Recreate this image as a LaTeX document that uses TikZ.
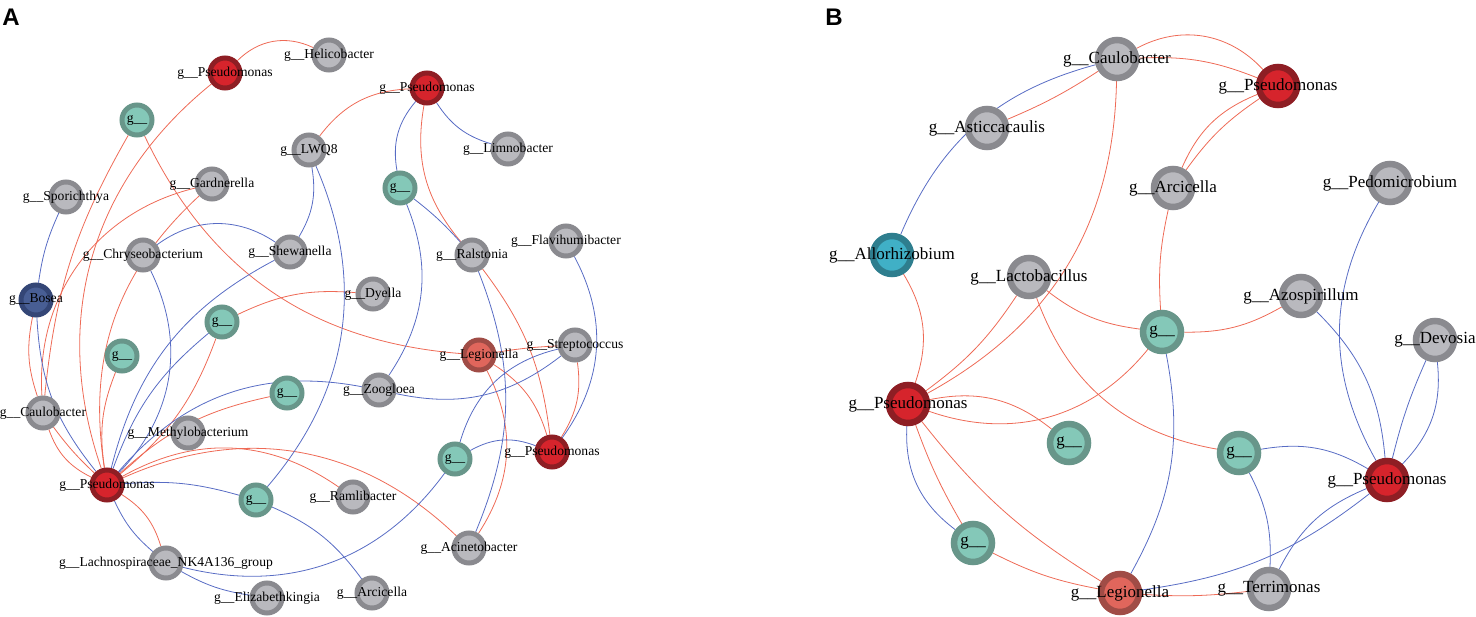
\documentclass[tikz,border=0pt]{standalone}
\usepackage{fontspec}
\setmainfont{Liberation Serif}
\newfontfamily\panelfont{Liberation Sans}
\usetikzlibrary{backgrounds}

\definecolor{grayfill}{RGB}{185,185,190}
\definecolor{grayedge}{RGB}{138,138,143}
\definecolor{tealfill}{RGB}{132,200,184}
\definecolor{tealedge}{RGB}{104,150,138}
\definecolor{redfill}{RGB}{214,36,44}
\definecolor{rededge}{RGB}{142,30,36}
\definecolor{legfill}{RGB}{224,102,92}
\definecolor{legedge}{RGB}{160,76,70}
\definecolor{navyfill}{RGB}{72,94,148}
\definecolor{navyedge}{RGB}{52,70,118}
\definecolor{cyanfill}{RGB}{64,176,198}
\definecolor{cyanedge}{RGB}{46,126,142}
\definecolor{posred}{RGB}{238,106,86}
\definecolor{negblue}{RGB}{88,108,196}

\begin{document}
\begin{tikzpicture}[
                x=1pt, y=1pt,
                nodeA/.style={circle, line width=5pt, minimum size=30pt, inner sep=0pt},
                nodeB/.style={circle, line width=6.5pt, minimum size=38pt, inner sep=0pt},
                gry/.style={fill=grayfill, draw=grayedge},
                tl/.style={fill=tealfill, draw=tealedge},
                rd/.style={fill=redfill, draw=rededge},
                lg/.style={fill=legfill, draw=legedge},
                nv/.style={fill=navyfill, draw=navyedge},
                cy/.style={fill=cyanfill, draw=cyanedge},
                lblA/.style={font=\fontsize{13.6}{15}\selectfont, inner sep=0pt},
                lblB/.style={font=\fontsize{17}{19}\selectfont, inner sep=0pt},
                panel/.style={font=\panelfont\bfseries\fontsize{24}{24}\selectfont, inner sep=0pt},
                poslink/.style={draw=posred, line width=0.8pt},
                neglink/.style={draw=negblue, line width=0.8pt},
            ]
            \useasboundingbox (0,0) rectangle (1476,-617);

            % ----- Panel A -----
            \node[panel] (pA) at (11,-17) {A};

            \tikzset{every label/.style={lblA}}
            \node[nodeA, rd, label=center:{g\_\_Pseudomonas}] (ps1) at (225,-73) {};
            \node[nodeA, gry, label=center:{g\_\_Helicobacter}] (heli) at (329,-55) {};
            \node[nodeA, tl, label=center:{g\_\_}] (tA1) at (137,-120) {};
            \node[nodeA, rd, label=center:{g\_\_Pseudomonas}] (ps2) at (427,-88) {};
            \node[nodeA, gry, label=center:{g\_\_Limnobacter}] (limno) at (508,-149) {};
            \node[nodeA, gry, label=center:{g\_\_LWQ8}] (lwq8) at (309,-150) {};
            \node[nodeA, tl, label=center:{g\_\_}] (tA2) at (400,-188) {};
            \node[nodeA, gry, label=center:{g\_\_Gardnerella}] (gard) at (212,-184) {};
            \node[nodeA, gry, label=center:{g\_\_Sporichthya}] (spor) at (66,-197) {};
            \node[nodeA, gry, label=center:{g\_\_Chryseobacterium}] (chry) at (143,-255) {};
            \node[nodeA, gry, label=center:{g\_\_Shewanella}] (shew) at (290,-252) {};
            \node[nodeA, gry, label=center:{g\_\_Ralstonia}] (rals) at (472,-255) {};
            \node[nodeA, gry, label=center:{g\_\_Flavihumibacter}] (flav) at (566,-241) {};
            \node[nodeA, nv, label=center:{g\_\_Bosea}] (bosea) at (36,-300) {};
            \node[nodeA, gry, label=center:{g\_\_Dyella}] (dyella) at (373,-294) {};
            \node[nodeA, tl, label=center:{g\_\_}] (tA3) at (222,-322) {};
            \node[nodeA, tl, label=center:{g\_\_}] (tA4) at (122,-356) {};
            \node[nodeA, lg, label=center:{g\_\_Legionella}] (leg) at (479,-355) {};
            \node[nodeA, gry, label=center:{g\_\_Streptococcus}] (strep) at (575,-345) {};
            \node[nodeA, tl, label=center:{g\_\_}] (tA5) at (287,-393) {};
            \node[nodeA, gry, label=center:{g\_\_Zoogloea}] (zoog) at (379,-390) {};
            \node[nodeA, gry, label=center:{g\_\_Caulobacter}] (caulo) at (43,-413) {};
            \node[nodeA, gry, label=center:{g\_\_Methylobacterium}] (methyl) at (188,-433) {};
            \node[nodeA, rd, label=center:{g\_\_Pseudomonas}] (ps3) at (107,-485) {};
            \node[nodeA, tl, label=center:{g\_\_}] (tA6) at (256,-500) {};
            \node[nodeA, gry, label=center:{g\_\_Ramlibacter}] (ramli) at (353,-497) {};
            \node[nodeA, tl, label=center:{g\_\_}] (tA7) at (455,-459) {};
            \node[nodeA, rd, label=center:{g\_\_Pseudomonas}] (ps4) at (552,-452) {};
            \node[nodeA, gry, label=center:{g\_\_Acinetobacter}] (acin) at (469,-548) {};
            \node[nodeA, gry, label=center:{g\_\_Lachnospiraceae\_NK4A136\_group}] (lachno) at (166,-563) {};
            \node[nodeA, gry, label=center:{g\_\_Elizabethkingia}] (eliz) at (267,-598) {};
            \node[nodeA, gry, label=center:{g\_\_Arcicella}] (arci) at (372,-593) {};

            \begin{scope}[on background layer]
            % positive links
            \draw[poslink] (ps1) to[bend left=35] (heli);
            \draw[poslink] (ps1) to[bend right=35] (ps3);
            \draw[poslink] (tA1) to[bend right=12] (caulo);
            \draw[poslink] (tA1) to[bend right=30] (leg);
            \draw[poslink] (gard) to[bend right=40] (caulo);
            \draw[poslink] (gard) to[bend right=28] (ps3);
            \draw[poslink] (bosea) to[bend right=15] (caulo);
            \draw[poslink] (caulo) to[bend right=5] (ps3);
            \draw[poslink] (caulo) to[bend right=22] (ps3);
            \draw[poslink] (tA4) to[bend right=15] (ps3);
            \draw[poslink] (ps3) to[bend right=15] (tA3);
            \draw[poslink] (tA3) to[bend left=15] (dyella);
            \draw[poslink] (ps3) to[bend left=15] (tA5);
            \draw[poslink] (ps3) to[bend left=32] (ramli);
            \draw[poslink] (ps3) to[bend left=34] (acin);
            \draw[poslink] (ps3) to[bend left=20] (lachno);
            \draw[poslink] (lwq8) to[bend left=25] (ps2);
            \draw[poslink] (ps2) to[bend right=25] (rals);
            \draw[poslink] (rals) to[bend left=15] (ps4);
            \draw[poslink] (leg) to[bend left=3] (strep);
            \draw[poslink] (leg) to[bend left=20] (ps4);
            \draw[poslink] (leg) to[bend left=30] (acin);
            \draw[poslink] (strep) to[bend left=20] (ps4);
            % negative links
            \draw[neglink] (spor) to[bend right=8] (bosea);
            \draw[neglink] (bosea) to[bend right=18] (ps3);
            \draw[neglink] (chry) to[bend left=35] (shew);
            \draw[neglink] (chry) to[bend left=35] (ps3);
            \draw[neglink] (shew) to[bend right=24] (ps3);
            \draw[neglink] (tA3) to[bend right=15] (ps3);
            \draw[neglink] (ps3) to[bend left=30] (zoog);
            \draw[neglink] (ps3) to[bend left=10] (tA6);
            \draw[neglink] (tA6) to[bend left=15] (arci);
            \draw[neglink] (ps3) to[bend right=12] (lachno);
            \draw[neglink] (lachno) to[bend right=10] (eliz);
            \draw[neglink] (lwq8) to[bend left=20] (shew);
            \draw[neglink] (lwq8) to[bend left=32] (tA6);
            \draw[neglink] (ps2) to[bend right=20] (limno);
            \draw[neglink] (ps2) to[bend right=25] (tA2);
            \draw[neglink] (tA2) to[bend left=5] (rals);
            \draw[neglink] (tA2) to[bend left=28] (zoog);
            \draw[neglink] (rals) to[bend left=22] (acin);
            \draw[neglink] (flav) to[bend left=32] (ps4);
            \draw[neglink] (strep) to[bend right=30] (tA7);
            \draw[neglink] (strep) to[bend left=25] (zoog);
            \draw[neglink] (tA7) to[bend left=25] (ps4);
            \draw[neglink] (tA7) to[bend left=34] (lachno);
            \end{scope}

            % ----- Panel B -----
            \node[panel] (pB) at (834,-17) {B};

            \tikzset{every label/.style={lblB}}
            \node[nodeB, gry, label=center:{g\_\_Caulobacter}] (bcaulo) at (1117,-59) {};
            \node[nodeB, gry, label=center:{g\_\_Asticcacaulis}] (basti) at (987,-128) {};
            \node[nodeB, rd, label=center:{g\_\_Pseudomonas}] (bps1) at (1278,-86) {};
            \node[nodeB, gry, label=center:{g\_\_Arcicella}] (barci) at (1173,-188) {};
            \node[nodeB, gry, label=center:{g\_\_Pedomicrobium}] (bpedo) at (1390,-183) {};
            \node[nodeB, cy, label=center:{g\_\_Allorhizobium}] (ballo) at (892,-255) {};
            \node[nodeB, gry, label=center:{g\_\_Lactobacillus}] (blacto) at (1029,-277) {};
            \node[nodeB, gry, label=center:{g\_\_Azospirillum}] (bazo) at (1301,-296) {};
            \node[nodeB, tl, label=center:{g\_\_}] (bt1) at (1162,-332) {};
            \node[nodeB, gry, label=center:{g\_\_Devosia}] (bdevo) at (1435,-340) {};
            \node[nodeB, rd, label=center:{g\_\_Pseudomonas}] (bps2) at (908,-404) {};
            \node[nodeB, tl, label=center:{g\_\_}] (bt2) at (1069,-443) {};
            \node[nodeB, tl, label=center:{g\_\_}] (bt3) at (1239,-453) {};
            \node[nodeB, rd, label=center:{g\_\_Pseudomonas}] (bps3) at (1387,-480) {};
            \node[nodeB, tl, label=center:{g\_\_}] (bt4) at (973,-543) {};
            \node[nodeB, lg, label=center:{g\_\_Legionella}] (bleg) at (1120,-593) {};
            \node[nodeB, gry, label=center:{g\_\_Terrimonas}] (bterri) at (1269,-589) {};

            \begin{scope}[on background layer]
            % positive links
            \draw[poslink] (bcaulo) to[bend left=5] (basti);
            \draw[poslink] (bcaulo) to[bend left=38] (bps1);
            \draw[poslink] (bcaulo) to[bend left=12] (bps1);
            \draw[poslink] (bps1) to[bend right=10] (barci);
            \draw[poslink] (bps1) to[bend right=22] (barci);
            \draw[poslink] (barci) to[bend right=8] (bt1);
            \draw[poslink] (bcaulo) to[bend left=30] (bps2);
            \draw[poslink] (blacto) to[bend left=10] (bps2);
            \draw[poslink] (ballo) to[bend left=25] (bps2);
            \draw[poslink] (blacto) to[bend right=15] (bt1);
            \draw[poslink] (blacto) to[bend right=30] (bt3);
            \draw[poslink] (bps2) to[bend right=35] (bt1);
            \draw[poslink] (bt1) to[bend right=15] (bazo);
            \draw[poslink] (bps2) to[bend left=25] (bt2);
            \draw[poslink] (bps2) to[bend right=5] (bt4);
            \draw[poslink] (bt4) to[bend right=8] (bleg);
            \draw[poslink] (bps2) to[bend right=10] (bleg);
            \draw[poslink] (bleg) to[bend right=5] (bterri);
            % negative links
            \draw[neglink] (bcaulo) to[bend right=26] (ballo);
            \draw[neglink] (bps2) to[bend right=28] (bt4);
            \draw[neglink] (bleg) to[bend right=20] (bt1);
            \draw[neglink] (bleg) to[bend right=15] (bps3);
            \draw[neglink] (bt3) to[bend left=20] (bps3);
            \draw[neglink] (bt3) to[bend left=15] (bterri);
            \draw[neglink] (bterri) to[bend left=20] (bps3);
            \draw[neglink] (bazo) to[bend left=20] (bps3);
            \draw[neglink] (bpedo) to[bend right=30] (bps3);
            \draw[neglink] (bdevo) to[bend right=5] (bps3);
            \draw[neglink] (bdevo) to[bend left=25] (bps3);
            \end{scope}

\end{tikzpicture}
\end{document}
